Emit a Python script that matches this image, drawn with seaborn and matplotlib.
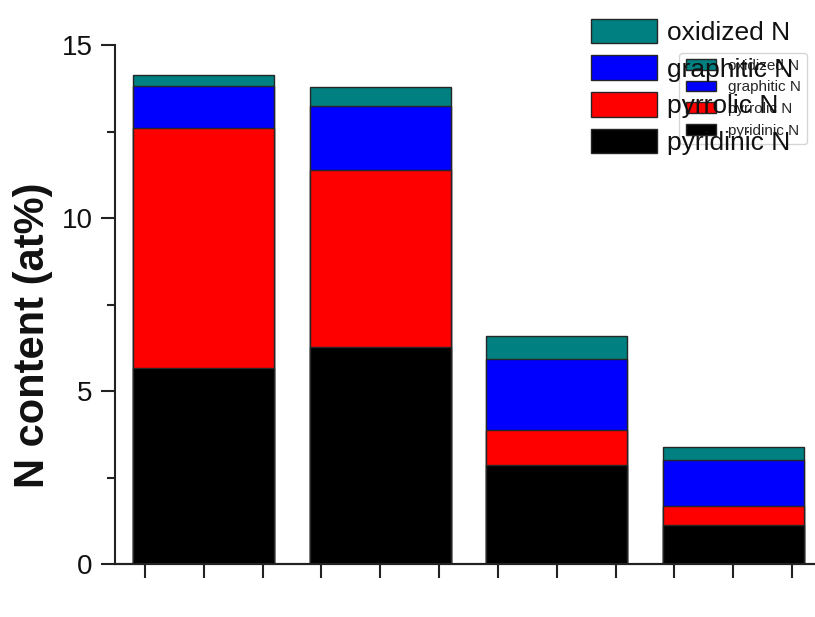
import matplotlib
matplotlib.use("Agg")
import matplotlib.pyplot as plt
from matplotlib.ticker import FixedLocator, NullFormatter
import seaborn as sns
import pandas as pd

# Pyrolysis temperature (°C) and nitrogen species content (at%)
temperatures = [550, 700, 850, 1000]
pyridinic = [5.67, 6.28, 2.86, 1.13]
pyrrolic = [6.92, 5.12, 1.00, 0.54]
graphitic = [1.23, 1.84, 2.06, 1.34]
oxidized = [0.31, 0.56, 0.68, 0.38]
x_tick_labels = ["550", "700", "850", "1000"]
x_tick_marks = [500, 550, 600, 650, 700, 750, 800, 850, 900, 950, 1000, 1050]

species = ["pyridinic N", "pyrrolic N", "graphitic N", "oxidized N"]
colors = ["#000000", "#ff0000", "#0000ff", "#008080"]

sns.set_theme(style="ticks")
plt.rcParams["font.family"] = ["Liberation Sans", "DejaVu Sans"]

df = pd.DataFrame({
    "T": temperatures,
    "pyridinic N": pyridinic,
    "pyrrolic N": pyrrolic,
    "graphitic N": graphitic,
    "oxidized N": oxidized,
})
cum = df[species].cumsum(axis=1)

fig = plt.figure(figsize=(8.15, 6.17), dpi=100)
rect = [0.141, 0.0859, 0.859, 0.8411]
ax = fig.add_axes(rect)

# Stack by drawing cumulative totals, tallest first
for name, col in reversed(list(zip(species, colors))):
    sns.barplot(x=df["T"], y=cum[name], native_scale=True, width=0.8,
                color=col, saturation=1, edgecolor="#262626", linewidth=1.0,
                errorbar=None, ax=ax, label=name)

ax.set_xlim(474.5, 1069.5)
ax.set_ylim(0, 15)
ax.set_xticks(temperatures, labels=x_tick_labels)
ax.tick_params(axis="x", which="major", length=0, labelsize=20,
               labelcolor="#111111", pad=16)

# transparent overlay carrying the tick marks every 50 °C
marks = fig.add_axes(rect, sharex=ax, zorder=5)
marks.patch.set_visible(False)
for s in ["top", "right", "left"]:
    marks.spines[s].set_visible(False)
marks.spines["bottom"].set_linewidth(1.5)
marks.spines["bottom"].set_color("#222222")
marks.set_yticks([])
marks.xaxis.set_major_locator(FixedLocator(x_tick_marks))
marks.xaxis.set_major_formatter(NullFormatter())
marks.tick_params(axis="x", which="major", length=10, width=1.5,
                  direction="out", color="#222222", bottom=True)
marks.set_xlim(474.5, 1069.5)

ax.set_yticks([0, 5, 10, 15])
ax.yaxis.set_minor_locator(FixedLocator([2.5, 7.5, 12.5]))
ax.tick_params(axis="y", which="major", labelsize=20, length=10, width=1.5,
               direction="out", color="#222222", labelcolor="#111111", pad=6)
ax.tick_params(axis="y", which="minor", length=6, width=1.5,
               direction="out", color="#222222", left=True)
ax.set_xlabel("")
ax.set_ylabel("N content (at%)", fontsize=30, fontweight="bold", color="#111111")
ax.yaxis.set_label_coords(-0.0886, 0.441)
for s in ["top", "right"]:
    ax.spines[s].set_visible(False)
for s in ["left", "bottom"]:
    ax.spines[s].set_linewidth(1.5)
    ax.spines[s].set_color("#222222")

handles, labels = ax.get_legend_handles_labels()
leg = marks.legend(handles, labels, loc="upper left", bbox_to_anchor=(0.7255, 0.970),
                   bbox_transform=fig.transFigure, frameon=False, fontsize=19,
                   handlelength=2.5, handleheight=1.07, labelspacing=0.39,
                   handletextpad=0.37, borderpad=0.0, borderaxespad=0.0)
for t in leg.get_texts():
    t.set_color("#111111")

fig.savefig("out.png", dpi=100)
